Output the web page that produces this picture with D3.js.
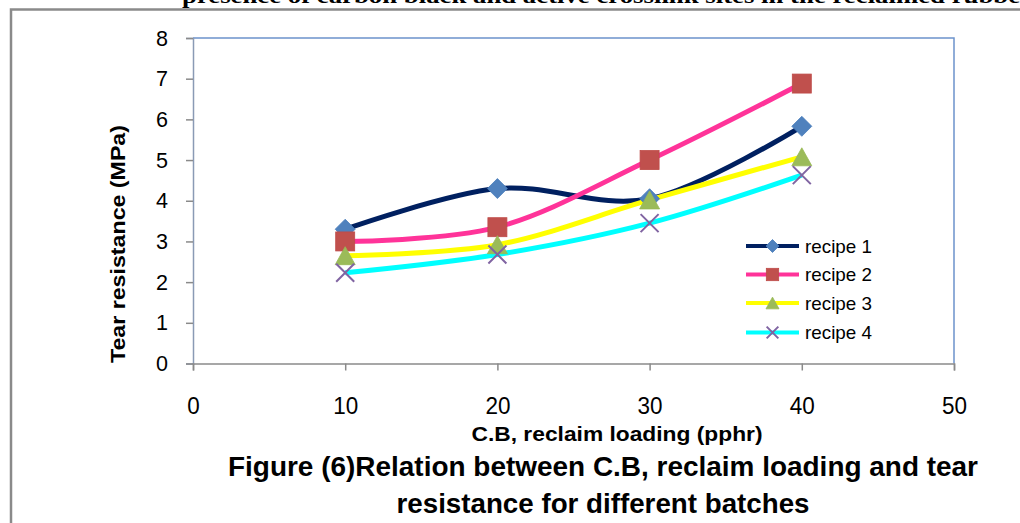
<!DOCTYPE html>
<html>
<head>
<meta charset="utf-8">
<title>Tear resistance vs C.B, reclaim loading</title>
<script src="https://d3js.org/d3.v7.min.js"></script>
<style>
  body { margin: 0; background: #fff; }
  svg { display: block; }
</style>
</head>
<body>
<svg id="chart"></svg>
<script>
// chart data
const loading = [10, 20, 30, 40];
const recipe1 = [3.3, 4.3, 4.05, 5.83];
const recipe2 = [3.0, 3.35, 5.0, 6.88];
const recipe3 = [2.65, 2.92, 4.02, 5.08];
const recipe4 = [2.23, 2.68, 3.45, 4.63];
const seriesNames = ["recipe 1", "recipe 2", "recipe 3", "recipe 4"];
const xTicks = [0, 10, 20, 30, 40, 50];
const yTicks = [0, 1, 2, 3, 4, 5, 6, 7, 8];

const width = 1020, height = 523;
const svg = d3.select("#chart").attr("width", width).attr("height", height);

const x = d3.scaleLinear().domain([0, 50]).range([193, 954]);
const y = d3.scaleLinear().domain([0, 8]).range([363.5, 38]);

// styles per series
const styles = [
  { line: "#002060", fill: "#4F81BD", shape: "diamond" },
  { line: "#FF3399", fill: "#C0504D", shape: "square" },
  { line: "#FFFF00", fill: "#9BBB59", shape: "triangle" },
  { line: "#00FFFF", fill: "#8064A2", shape: "cross" }
];
const allValues = [recipe1, recipe2, recipe3, recipe4];

// text cut off at the top of the page (cut in the reference too)
svg.append("text")
  .attr("x", 182).attr("y", 3)
  .attr("font-family", "Liberation Serif, Times New Roman, serif")
  .attr("font-weight", "bold").attr("font-size", 21)
  .attr("textLength", 850).attr("lengthAdjust", "spacingAndGlyphs")
  .text("presence of carbon black and active crosslink sites in the reclaimed rubber");

// outer frame
svg.append("rect")
  .attr("x", 11).attr("y", 9.5).attr("width", 1040).attr("height", 540)
  .attr("fill", "none").attr("stroke", "#8a8a8a").attr("stroke-width", 2.5);

// plot border: top and right
svg.append("path")
  .attr("d", `M${x(0)},${y(8)}H${x(50)}V${y(0)}`)
  .attr("fill", "none").attr("stroke", "#6C93CC").attr("stroke-width", 1.5);

// y axis
const yAxis = svg.append("g")
  .attr("transform", `translate(${x(0)},0)`)
  .call(d3.axisLeft(y).tickValues(yTicks).tickSize(7).tickPadding(18).tickFormat(d3.format("d")));
yAxis.select(".domain").attr("stroke", "#8A9AB5").attr("stroke-width", 1.5);
yAxis.selectAll(".tick line").attr("stroke", "#8a8a8a").attr("stroke-width", 1.5);
yAxis.selectAll(".tick text")
  .attr("font-family", "Liberation Sans, Arial, sans-serif")
  .attr("font-size", 22).attr("fill", "#000")
  .attr("textLength", 12).attr("lengthAdjust", "spacingAndGlyphs");

// x axis
const xAxis = svg.append("g")
  .attr("transform", `translate(0,${y(0)})`)
  .call(d3.axisBottom(x).tickValues(xTicks).tickSize(7).tickPadding(26).tickFormat(d3.format("d")));
xAxis.select(".domain").attr("stroke", "#8a8a8a").attr("stroke-width", 1.5);
xAxis.selectAll(".tick line").attr("stroke", "#8a8a8a").attr("stroke-width", 1.5);
xAxis.selectAll(".tick text")
  .attr("font-family", "Liberation Sans, Arial, sans-serif")
  .attr("font-size", 24).attr("fill", "#000")
  .attr("textLength", d => d < 10 ? 12.5 : 25).attr("lengthAdjust", "spacingAndGlyphs");

// series lines
const line = d3.line()
  .x((d, i) => x(loading[i]))
  .y(d => y(d))
  .curve(d3.curveCatmullRom.alpha(0));

allValues.forEach((vals, s) => {
  svg.append("path")
    .datum(vals)
    .attr("d", line)
    .attr("fill", "none")
    .attr("stroke", styles[s].line)
    .attr("stroke-width", 5)
    .attr("stroke-linejoin", "round");
});

function drawMarker(g, shape, color, cx, cy, r) {
  if (shape === "diamond") {
    g.append("path")
      .attr("d", `M${cx},${cy - r}L${cx + r},${cy}L${cx},${cy + r}L${cx - r},${cy}Z`)
      .attr("fill", color).attr("stroke", "#4A7EBB").attr("stroke-width", 0.8);
  } else if (shape === "square") {
    const h = r * 0.95;
    g.append("rect")
      .attr("x", cx - h).attr("y", cy - h).attr("width", 2 * h).attr("height", 2 * h)
      .attr("fill", color).attr("stroke", "#BE4B48").attr("stroke-width", 0.8);
  } else if (shape === "triangle") {
    g.append("path")
      .attr("d", `M${cx},${cy - r * 0.9}L${cx + r},${cy + r * 0.9}L${cx - r},${cy + r * 0.9}Z`)
      .attr("fill", color).attr("stroke", "#98B954").attr("stroke-width", 0.8);
  } else {
    const h = r * 0.9;
    g.append("path")
      .attr("d", `M${cx - h},${cy - h}L${cx + h},${cy + h}M${cx + h},${cy - h}L${cx - h},${cy + h}`)
      .attr("fill", "none").attr("stroke", color).attr("stroke-width", 2);
  }
}

// markers
const markers = svg.append("g");
allValues.forEach((vals, s) => {
  vals.forEach((v, i) => {
    drawMarker(markers, styles[s].shape, styles[s].fill, x(loading[i]), y(v), 10);
  });
});

// legend
const legend = svg.append("g");
const legendY = [246, 274.5, 303, 332.5];
seriesNames.forEach((name, s) => {
  const ly = legendY[s];
  legend.append("line")
    .attr("x1", 746).attr("x2", 799).attr("y1", ly).attr("y2", ly)
    .attr("stroke", styles[s].line).attr("stroke-width", 4);
  drawMarker(legend, styles[s].shape, styles[s].fill, 772.5, ly, 6.5);
  legend.append("text")
    .attr("x", 805).attr("y", ly).attr("dy", "0.36em")
    .attr("font-family", "Liberation Sans, Arial, sans-serif")
    .attr("font-size", 19).attr("fill", "#000")
    .attr("textLength", 67).attr("lengthAdjust", "spacingAndGlyphs")
    .text(name);
});

// axis titles
svg.append("text")
  .attr("transform", "translate(125,244) rotate(-90)")
  .attr("text-anchor", "middle")
  .attr("font-family", "Liberation Sans, Arial, sans-serif")
  .attr("font-weight", "bold").attr("font-size", 21)
  .attr("textLength", 238).attr("lengthAdjust", "spacingAndGlyphs")
  .text("Tear resistance (MPa)");

svg.append("text")
  .attr("x", 617).attr("y", 441)
  .attr("text-anchor", "middle")
  .attr("font-family", "Liberation Sans, Arial, sans-serif")
  .attr("font-weight", "bold").attr("font-size", 20)
  .attr("textLength", 291).attr("lengthAdjust", "spacingAndGlyphs")
  .text("C.B, reclaim loading (pphr)");

// figure caption
const caption = ["Figure (6)Relation between C.B, reclaim loading and tear", "resistance for different batches"];
const captionLen = [750, 413];
const captionY = [476, 513];
caption.forEach((t, i) => {
  svg.append("text")
    .attr("x", 603).attr("y", captionY[i])
    .attr("text-anchor", "middle")
    .attr("font-family", "Liberation Sans, Arial, sans-serif")
    .attr("font-weight", "bold").attr("font-size", 27)
    .attr("textLength", captionLen[i]).attr("lengthAdjust", "spacingAndGlyphs")
    .text(t);
});
</script>
</body>
</html>
